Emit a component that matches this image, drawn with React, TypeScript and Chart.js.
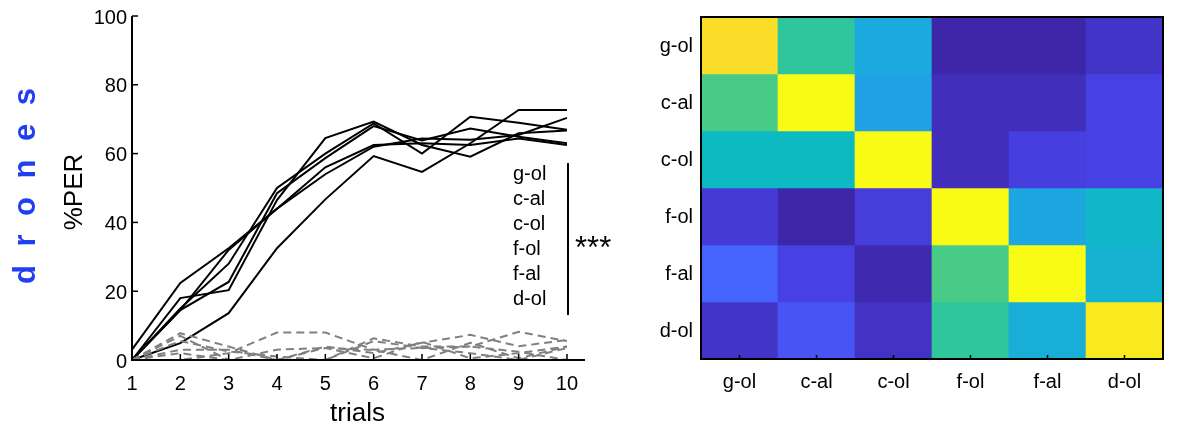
import React, { useEffect, useRef } from "react";
import { Chart, registerables } from "chart.js";
Chart.register(...registerables);

// ---------- data ----------
const TRIALS = [1, 2, 3, 4, 5, 6, 7, 8, 9, 10];
const Y_TICKS = [0, 20, 40, 60, 80, 100];
const ODOURS = ["g-ol", "c-al", "c-ol", "f-ol", "f-al", "d-ol"];

// solid (black) learning curves, %PER per trial
const SOLID_1 = [3, 22.4, 32.5, 44, 54, 62, 64.4, 64, 65.4, 70.4];
const SOLID_2 = [0, 18, 20.3, 46.5, 64.5, 69.3, 62.5, 59.1, 65.9, 66.7];
const SOLID_3 = [0, 15, 28, 50, 60, 68.8, 60, 70.7, 69, 66.9];
const SOLID_4 = [0, 14.5, 22.7, 48.5, 58.7, 68, 63.8, 67.3, 64.9, 63];
const SOLID_5 = [0, 14.5, 32, 44, 56, 62.5, 63, 62.5, 64.4, 62.5];
const SOLID_6 = [0, 4.9, 13.6, 32.5, 46.7, 59.3, 54.7, 63, 72.7, 72.7];

// dashed (grey) curves
const DASHED_1 = [0, 7.8, 3.9, 0, 0, 5.5, 3.5, 2, 0, 3.5];
const DASHED_2 = [0, 7, 0, 0, 3.9, 2, 5, 7.3, 4, 5.8];
const DASHED_3 = [0, 0, 2, 8, 8, 3, 3.5, 3.9, 8.2, 5.5];
const DASHED_4 = [0, 5.5, 2.5, 1, 0, 6.3, 3.9, 3.9, 2.4, 0];
const DASHED_5 = [0, 3, 3, 0, 3.5, 0.5, 5.3, 0.5, 2, 3.9];
const DASHED_6 = [0, 2, 0, 3, 3.5, 2.9, 0, 5, 0.5, 3.9];

// similarity matrix rows (0..1)
const HEAT_G_OL = [0.91, 0.555, 0.4, 0.0, 0.0, 0.05];
const HEAT_C_AL = [0.6, 1.0, 0.37, 0.03, 0.03, 0.09];
const HEAT_C_OL = [0.48, 0.48, 1.0, 0.03, 0.085, 0.09];
const HEAT_F_OL = [0.07, 0.0, 0.08, 1.0, 0.39, 0.46];
const HEAT_F_AL = [0.19, 0.09, 0.01, 0.6, 1.0, 0.44];
const HEAT_D_OL = [0.05, 0.15, 0.045, 0.555, 0.42, 0.95];

const SOLIDS = [SOLID_1, SOLID_2, SOLID_3, SOLID_4, SOLID_5, SOLID_6];
const DASHEDS = [DASHED_1, DASHED_2, DASHED_3, DASHED_4, DASHED_5, DASHED_6];
const HEAT = [HEAT_G_OL, HEAT_C_AL, HEAT_C_OL, HEAT_F_OL, HEAT_F_AL, HEAT_D_OL];

// parula colormap anchors
const PARULA: [number, number, number, number][] = [
  [0 / 63, 62, 38, 168],
  [6 / 63, 71, 65, 229],
  [12 / 63, 69, 99, 253],
  [19 / 63, 45, 140, 243],
  [25 / 63, 28, 169, 223],
  [31 / 63, 11, 189, 189],
  [38 / 63, 74, 203, 132],
  [44 / 63, 171, 199, 57],
  [50 / 63, 240, 186, 54],
  [56 / 63, 250, 214, 45],
  [63 / 63, 249, 251, 21],
];

function parula(v: number): string {
  const t = Math.max(0, Math.min(1, v));
  for (let i = 0; i < PARULA.length - 1; i++) {
    const a = PARULA[i];
    const b = PARULA[i + 1];
    if (t <= b[0]) {
      const f = (t - a[0]) / (b[0] - a[0]);
      const c = [1, 2, 3].map((k) => Math.round(a[k] + (b[k] - a[k]) * f));
      return `rgb(${c[0]},${c[1]},${c[2]})`;
    }
  }
  const l = PARULA[PARULA.length - 1];
  return `rgb(${l[1]},${l[2]},${l[3]})`;
}

const FONT = '"Liberation Sans", Arial, sans-serif';

const leftDeco = {
  id: "leftDeco",
  afterDraw(chart: any) {
    const { ctx, chartArea: a } = chart;
    const x = chart.scales.x;
    const y = chart.scales.y;
    ctx.save();
    ctx.strokeStyle = "#000";
    ctx.fillStyle = "#000";
    ctx.lineWidth = 2;
    ctx.beginPath();
    ctx.moveTo(a.left, a.top);
    ctx.lineTo(a.left, a.bottom);
    ctx.lineTo(a.right, a.bottom);
    ctx.stroke();
    ctx.lineWidth = 1.5;
    Y_TICKS.forEach((v) => {
      const py = y.getPixelForValue(v);
      ctx.beginPath();
      ctx.moveTo(a.left, py);
      ctx.lineTo(a.left + 6, py);
      ctx.stroke();
    });
    TRIALS.forEach((t) => {
      const px = x.getPixelForValue(t);
      ctx.beginPath();
      ctx.moveTo(px, a.bottom);
      ctx.lineTo(px, a.bottom - 6);
      ctx.stroke();
    });
    // tick labels
    ctx.font = `20px ${FONT}`;
    ctx.textAlign = "right";
    ctx.textBaseline = "alphabetic";
    Y_TICKS.forEach((v) => {
      ctx.fillText(String(v), a.left - 5, y.getPixelForValue(v) + 7.5);
    });
    ctx.textAlign = "center";
    TRIALS.forEach((t) => {
      ctx.fillText(String(t), x.getPixelForValue(t), a.bottom + 30);
    });
    // axis titles
    ctx.font = `26px ${FONT}`;
    ctx.fillText("trials", (x.getPixelForValue(1) + x.getPixelForValue(10)) / 2 + 8, 421);
    ctx.save();
    ctx.translate(82, 192);
    ctx.rotate(-Math.PI / 2);
    ctx.textAlign = "center";
    ctx.fillText("%PER", 0, 0);
    ctx.restore();
    // "drones" label
    ctx.save();
    ctx.fillStyle = "#1f3ff0";
    ctx.font = `bold 31px ${FONT}`;
    ctx.translate(35, 284);
    ctx.rotate(-Math.PI / 2);
    ctx.textAlign = "left";
    let cx = 0;
    const word = "drones";
    const widths = word.split("").map((ch) => ctx.measureText(ch).width);
    const total = 196;
    const gap = (total - widths.reduce((s, w) => s + w, 0)) / (word.length - 1);
    word.split("").forEach((ch, i) => {
      ctx.fillText(ch, cx, 0);
      cx += widths[i] + gap;
    });
    ctx.restore();
    // odour list + significance bar
    ctx.font = `20px ${FONT}`;
    ctx.textAlign = "left";
    const listTop = 180;
    ODOURS.forEach((o, i) => {
      ctx.fillText(o, 513, listTop + i * 25);
    });
    ctx.lineWidth = 2;
    ctx.beginPath();
    ctx.moveTo(568, 163);
    ctx.lineTo(568, 315);
    ctx.stroke();
    ctx.font = `31px ${FONT}`;
    ctx.fillText("***", 575, 258);
    ctx.restore();
  },
};

const heatDeco = {
  id: "heatDeco",
  afterDraw(chart: any) {
    const { ctx, chartArea: a } = chart;
    const x = chart.scales.x;
    const y = chart.scales.y;
    ctx.save();
    ctx.strokeStyle = "#000";
    ctx.fillStyle = "#000";
    ctx.lineWidth = 2;
    ctx.strokeRect(a.left, a.top, a.right - a.left, a.bottom - a.top);
    ctx.lineWidth = 1.5;
    ODOURS.forEach((o, i) => {
      const px = x.getPixelForValue(i);
      ctx.beginPath();
      ctx.moveTo(px, a.bottom);
      ctx.lineTo(px, a.bottom - 4);
      ctx.stroke();
    });
    ctx.font = `20px ${FONT}`;
    ctx.textAlign = "center";
    ctx.textBaseline = "alphabetic";
    ODOURS.forEach((o, i) => {
      ctx.fillText(o, x.getPixelForValue(i), 388);
    });
    ctx.textAlign = "right";
    ODOURS.forEach((o, i) => {
      ctx.fillText(o, a.left - 8, y.getPixelForValue(i + 0.5) + 6);
    });
    ctx.restore();
  },
};

export default function App() {
  const leftRef = useRef<HTMLCanvasElement | null>(null);
  const rightRef = useRef<HTMLCanvasElement | null>(null);

  useEffect(() => {
    document.body.style.margin = "0";
    const left = new Chart(leftRef.current as HTMLCanvasElement, {
      type: "line",
      data: {
        datasets: [
          ...DASHEDS.map((d) => ({
            data: TRIALS.map((t, i) => ({ x: t, y: d[i] })),
            borderColor: "rgb(128,128,128)",
            borderWidth: 2,
            borderDash: [8, 5],
            pointRadius: 0,
            tension: 0,
            fill: false,
            clip: 6,
          })),
          ...SOLIDS.map((d) => ({
            data: TRIALS.map((t, i) => ({ x: t, y: d[i] })),
            borderColor: "#000",
            borderWidth: 2,
            pointRadius: 0,
            tension: 0,
            fill: false,
            clip: 6,
          })),
        ],
      },
      options: {
        animation: false,
        responsive: false,
        maintainAspectRatio: false,
        layout: { padding: { left: 132, right: 55, top: 16, bottom: 65 } },
        scales: {
          x: { type: "linear", min: 1, max: 10.373, display: false },
          y: { type: "linear", min: 0, max: 100, display: false },
        },
        plugins: { legend: { display: false }, tooltip: { enabled: false } },
      },
      plugins: [leftDeco],
    } as any);

    const right = new Chart(rightRef.current as HTMLCanvasElement, {
      type: "bar",
      data: {
        labels: ODOURS,
        datasets: HEAT.map((row, r) => ({
          data: row.map(() => [r, r + 1]),
          backgroundColor: row.map((v) => parula(v)),
          borderWidth: 0,
          grouped: false,
          barPercentage: 1,
          categoryPercentage: 1,
        })),
      },
      options: {
        animation: false,
        responsive: false,
        maintainAspectRatio: false,
        layout: { padding: { left: 61, right: 18, top: 17, bottom: 66 } },
        scales: {
          x: { type: "category", display: false, offset: true },
          y: { type: "linear", min: 0, max: 6, reverse: true, display: false },
        },
        plugins: { legend: { display: false }, tooltip: { enabled: false } },
      },
      plugins: [heatDeco],
    } as any);

    return () => {
      left.destroy();
      right.destroy();
    };
  }, []);

  return (
    <div style={{ position: "relative", width: 1181, height: 425, background: "#fff" }}>
      <canvas
        ref={leftRef}
        width={640}
        height={425}
        style={{ position: "absolute", left: 0, top: 0, width: 640, height: 425 }}
      />
      <canvas
        ref={rightRef}
        width={541}
        height={425}
        style={{ position: "absolute", left: 640, top: 0, width: 541, height: 425 }}
      />
    </div>
  );
}
